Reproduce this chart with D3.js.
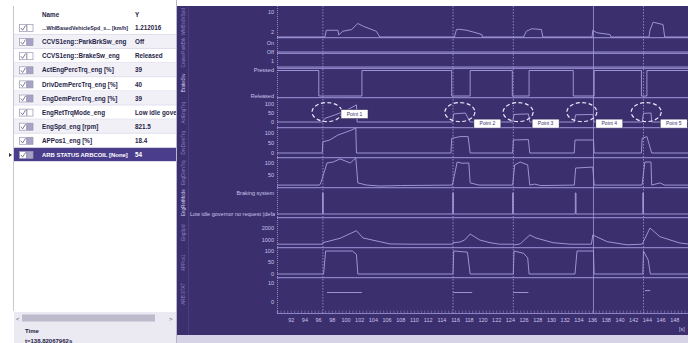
<!DOCTYPE html>
<html>
<head>
<meta charset="utf-8">
<script src="https://cdn.jsdelivr.net/npm/d3@7"></script>
<style>
html, body { margin: 0; padding: 0; background: #fff; overflow: hidden; }
svg { display: block; font-family: "Liberation Sans", Arial, sans-serif; }
</style>
</head>
<body>
<div id="chart"></div>
<script>
// ---- data ----
const tableNames = [
  '...WhlBasedVehicleSpd_s... [km/h]', 'CCVS1eng::ParkBrkSw_eng', 'CCVS1eng::BrakeSw_eng',
  'ActEngPercTrq_eng [%]', 'DrivDemPercTrq_eng [%]', 'EngDemPercTrq_eng [%]',
  'EngRetTrqMode_eng', 'EngSpd_eng [rpm]', 'APPos1_eng [%]', 'ARB STATUS ARBCOIL [None]'
];
const tableValues = ['1.212016', 'Off', 'Released', '39', '40', '39',
  'Low idle governor no request (default mode)', '821.5', '18.4', '54'];
const swatchFilled = [false, true, false, true, true, true, false, true, true, true];
const laneNames = ['WhlBsdVSpd', 'ParkBrk', 'Cruise', 'BrakeSw', 'ActEngTrq', 'DrvDemTrq',
  'EngDemTrq', 'EngRetMode', 'EngSpd', 'APPos1', 'ARB STAT'];

const timeTicks = [92, 94, 96, 98, 100, 102, 104, 106, 108, 110, 112, 114, 116, 118, 120,
  122, 124, 126, 128, 130, 132, 134, 136, 138, 140, 142, 144, 146, 148];
const cursorT = [96.7, 115.7, 124.5, 136.2, 143.5];
const cursorSolid = [false, false, false, true, false];

const pointNames = ['Point 1', 'Point 2', 'Point 3', 'Point 4', 'Point 5'];
const pointT = [97.3, 116.7, 125.2, 134.5, 143.9];
const pointV = [55, 55, 55, 55, 55];

const vehSpd = [[90, 0], [97.0, 0], [97.2, 2.7], [98.9, 2.7], [99.0, 0.8], [99.6, 2.3], [100.9, 3.0],
  [101.8, 5.4], [102.6, 4.3], [104.5, 2.3], [105.0, 0],
  [115.9, 0], [116.2, 3.0], [116.6, 3.1], [117.7, 2.7], [118.9, 1.8], [119.9, 1.0], [120.0, 0],
  [126.0, 0], [126.4, 2.3], [127.2, 3.3], [128.6, 3.0], [128.8, 0],
  [136.0, 0], [136.1, 2.7], [136.7, 1.7], [138.6, 1.0], [138.8, 0],
  [144.3, 0], [144.45, 2.7], [144.9, 5.9], [146.35, 5.0], [146.6, 0], [150, 0]];
const parkBrk = [[90, 'Off'], [150, 'Off']];
const cruiseSw = [[90, 0], [150, 0]];
const brakeSw = [[90, 'Pressed'], [96.1, 'Released'], [102.4, 'Pressed'], [115.5, 'Released'],
  [118.2, 'Pressed'], [124.35, 'Released'], [126.8, 'Pressed'], [133.25, 'Released'],
  [136.3, 'Pressed'], [143.2, 'Released'], [144.0, 'Pressed'], [150, 'Pressed']];
const actTrq = [[90, 0], [96.6, 0], [97.0, 20], [98.5, 40], [100.0, 62], [101.6, 95], [101.7, 0],
  [115.6, 0], [115.8, 45], [117.5, 50], [118.2, 0], [124.4, 0], [124.6, 42], [126.7, 45], [126.9, 0],
  [133.4, 0], [133.6, 40], [136.1, 42], [136.3, 0], [143.3, 0], [143.5, 48], [144.6, 50], [144.7, 0], [150, 0]];
const drvDemTrq = [[90, 0], [96.6, 0], [96.7, 56], [97.7, 65], [98.9, 90], [100.2, 106], [100.9, 115],
  [101.5, 125], [101.6, 0], [115.4, 0], [115.5, 73], [116.7, 82], [117.9, 82], [118.2, 0],
  [124.4, 0], [124.5, 65], [126.7, 67], [126.9, 0], [133.4, 0], [133.5, 65], [136.2, 65], [136.3, 0],
  [143.2, 0], [143.3, 73], [144.0, 82], [144.7, 0], [150, 0]];
const engDemTrq = [[90, 8], [96.2, 8], [96.4, 17], [97.3, 100], [98.2, 104], [99.2, 117], [100.0, 108],
  [100.7, 100], [101.5, 121], [101.8, 17], [103.1, 8], [105, 4], [108, 6], [115.6, 8], [116.3, 104],
  [117.0, 99], [118.0, 100], [118.2, 17], [119.5, 8], [124.4, 8], [124.7, 92], [125.5, 104],
  [126.6, 92], [126.9, 8], [127.6, 12], [128.5, 6], [133.4, 8], [133.6, 79], [136.1, 83], [136.3, 8],
  [143.3, 8], [143.7, 104], [144.6, 104], [144.7, 8], [145.9, 17], [146.6, 8], [150, 8]];
const retModeStates = ['Braking system', 'Low idle governor no request (default mode)'];
const retMode = [[90, 1], [96.65, 0], [96.75, 1], [115.65, 0], [115.75, 1], [124.4, 0], [124.5, 1],
  [133.55, 0], [133.65, 1], [143.4, 0], [143.5, 1], [150, 1]];
const engSpd = [[90, 650], [96.6, 650], [96.7, 775], [99.2, 1140], [101.6, 1775], [102.55, 1170],
  [105.0, 860], [106.5, 670], [110, 650], [115.6, 650], [115.7, 775], [116.7, 830], [117.4, 1000],
  [118.2, 1500], [119.6, 1000], [121.1, 775], [122.5, 650], [124.4, 650], [124.5, 580], [125.5, 670],
  [126.9, 1417], [127.8, 1170], [130.3, 775], [132.8, 650], [135.9, 650], [136.1, 1417], [138.2, 860],
  [141.1, 600], [143.3, 650], [143.4, 750], [144.45, 2000], [145.9, 1275], [148.8, 750], [150, 670]];
const apPos = [[90, 0], [96.8, 0], [97.1, 100], [101.0, 100], [101.6, 85], [101.8, 0], [115.7, 0],
  [115.8, 100], [117.8, 95], [118.2, 0], [124.5, 0], [124.6, 100], [126.0, 90], [126.6, 70], [126.8, 0],
  [133.5, 0], [133.8, 100], [136.2, 100], [136.3, 0], [143.4, 0], [143.5, 100], [144.2, 60], [144.5, 0], [150, 0]];
const arbStatus = [[97.3, 5], [102.4, 5], [102.4, null], [115.7, 5], [118.5, 5], [118.5, null],
  [124.5, 5], [126.7, 5], [126.7, null], [143.7, 6], [144.5, 6]];

// ---- layout ----
const W = 688, H = 343;
const plotTop = 6, plotBottom = 335, axisY = 313;
const BG = '#3b2f6d', TRACE = '#a89fe0', SEP = '#8c83c6', LBL = '#cac3ec';

const x = d3.scaleLinear().domain([90, 150]).range([277, 688]);

const lanes = [
  { data: vehSpd, bottom: 37.7, y: d3.scaleLinear().domain([0, 10]).range([37, 12]), ticks: [10, 2] },
  { data: parkBrk, bottom: 53.3, y: d3.scalePoint().domain(['On', 'Off']).range([43, 52]) },
  { data: cruiseSw, bottom: 68.3, y: d3.scaleLinear().domain([0, 1]).range([67, 61]), ticks: [1] },
  { data: brakeSw, bottom: 97.7, y: d3.scalePoint().domain(['Pressed', 'Released']).range([70.5, 96]), step: true },
  { data: actTrq, bottom: 127.7, y: d3.scaleLinear().domain([0, 100]).range([122, 104]), ticks: [100, 50, 0] },
  { data: drvDemTrq, bottom: 157.7, y: d3.scaleLinear().domain([0, 125]).range([153, 128]), ticks: [100, 50, 0] },
  { data: engDemTrq, bottom: 187.7, y: d3.scaleLinear().domain([0, 100]).range([187, 163]), ticks: [100, 50] },
  { data: retMode, bottom: 217.7, y: d3.scalePoint().domain(retModeStates).range([193, 214]), step: true, states: retModeStates },
  { data: engSpd, bottom: 247.7, y: d3.scaleLinear().domain([0, 2500]).range([252, 222]), ticks: [2000, 1000] },
  { data: apPos, bottom: 277.7, y: d3.scaleLinear().domain([0, 100]).range([274, 251]), ticks: [100, 50, 0] },
  { data: arbStatus, bottom: 310, y: d3.scaleLinear().domain([0, 10]).range([302, 283]), ticks: [10, 0] }
];
lanes.forEach((l, i) => { l.top = i === 0 ? plotTop : lanes[i - 1].bottom; });

const svg = d3.select('#chart').append('svg').attr('width', W).attr('height', H);
const defs = svg.append('defs');
defs.append('clipPath').attr('id', 'plotClip').append('rect')
  .attr('x', 277).attr('y', plotTop).attr('width', 411).attr('height', axisY - plotTop);
defs.append('clipPath').attr('id', 'lblClip').append('rect')
  .attr('x', 189).attr('y', plotTop).attr('width', 86).attr('height', axisY - plotTop);
defs.append('clipPath').attr('id', 'tblClip').append('rect')
  .attr('x', 14).attr('y', 0).attr('width', 162).attr('height', H);

svg.append('rect').attr('width', W).attr('height', H).attr('fill', '#fff');

// ---- left table panel ----
const panel = svg.append('g');
const INK = '#262448';
const rowY = d3.scaleBand().domain(tableNames).range([21, 162]);
panel.append('line').attr('x1', 13.5).attr('x2', 13.5).attr('y1', 6).attr('y2', 311)
  .attr('stroke', '#c9c7d6');
panel.append('line').attr('x1', 176.5).attr('x2', 176.5).attr('y1', 0).attr('y2', H)
  .attr('stroke', '#b9b6cc');
panel.append('text').attr('x', 42).attr('y', 16.5).text('Name')
  .attr('font-size', 6.3).attr('font-weight', 'bold').attr('fill', INK);
panel.append('text').attr('x', 135).attr('y', 16.5).text('Y')
  .attr('font-size', 6.3).attr('font-weight', 'bold').attr('fill', INK);

const rows = panel.selectAll('g.row').data(tableNames).join('g').attr('class', 'row')
  .attr('transform', d => `translate(0,${rowY(d)})`);
const last = tableNames.length - 1;
rows.append('rect').attr('x', 14).attr('width', 162).attr('height', rowY.bandwidth())
  .attr('fill', (d, i) => i === last ? '#4a3e8c' : (i % 2 ? '#f1f0f7' : '#fff'));
rows.append('line').attr('x1', 14).attr('x2', 176).attr('y1', rowY.bandwidth() - 0.5)
  .attr('y2', rowY.bandwidth() - 0.5).attr('stroke', '#dedcea');
rows.append('rect').attr('x', 19.5).attr('y', 3.5).attr('width', 7).attr('height', 7)
  .attr('fill', '#fff').attr('stroke', '#9896b0').attr('stroke-width', 0.7);
rows.append('path').attr('d', 'M20.8,7 L22.6,9.2 L25.6,4.4').attr('fill', 'none')
  .attr('stroke', '#6f6d8e').attr('stroke-width', 0.9);
rows.append('rect').attr('x', 27).attr('y', 3.5).attr('width', 6).attr('height', 7)
  .attr('fill', (d, i) => swatchFilled[i] ? '#a7a3c6' : '#fff')
  .attr('stroke', '#9896b0').attr('stroke-width', 0.7);
rows.append('text').attr('x', 42).attr('y', 9.2).text(d => d)
  .attr('font-size', 6.3).attr('font-weight', 'bold')
  .attr('fill', (d, i) => i === last ? '#fff' : INK)
  .each(function () {
    // shrink long names so they stay left of the value column
    const w = this.getComputedTextLength(), maxW = 86;
    if (w > maxW) d3.select(this).attr('font-size', 6.3 * maxW / w);
  });
rows.append('text').attr('x', 135).attr('y', 9.2).text((d, i) => tableValues[i])
  .attr('clip-path', 'url(#tblClip)')
  .attr('font-size', 6.3).attr('font-weight', 'bold')
  .attr('fill', (d, i) => i === last ? '#fff' : INK);
panel.append('path').attr('d', `M9,${rowY(tableNames[last]) + 5} l3,2 l-3,2 z`).attr('fill', '#333');

// scrollbar + time readout
panel.append('rect').attr('x', 14).attr('y', 312).attr('width', 162).attr('height', 31).attr('fill', '#ebe9f1');
panel.append('rect').attr('x', 22).attr('y', 314.5).attr('width', 133).attr('height', 7).attr('fill', '#bcbacb');
panel.append('text').attr('x', 16).attr('y', 320.5).text('<').attr('font-size', 6).attr('fill', '#555');
panel.append('text').attr('x', 169).attr('y', 320.5).text('>').attr('font-size', 6).attr('fill', '#555');
panel.append('text').attr('x', 25).attr('y', 333).text('Time')
  .attr('font-size', 6).attr('font-weight', 'bold').attr('fill', INK);
panel.append('text').attr('x', 25).attr('y', 343).text('t=138.82067962s')
  .attr('font-size', 6).attr('font-weight', 'bold').attr('fill', INK);

// ---- plot background ----
svg.append('rect').attr('x', 177).attr('y', plotTop).attr('width', W - 177).attr('height', plotBottom - plotTop)
  .attr('fill', BG);
svg.append('rect').attr('x', 177).attr('y', plotBottom).attr('width', W - 177).attr('height', H - plotBottom)
  .attr('fill', '#d7d3e6');
svg.append('line').attr('x1', 188.5).attr('x2', 188.5).attr('y1', plotTop).attr('y2', plotBottom)
  .attr('stroke', '#4a3e80');

// lane names in the narrow strip
svg.append('g').selectAll('text').data(lanes).join('text')
  .attr('transform', l => `translate(184.5,${(l.top + l.bottom) / 2}) rotate(-90)`)
  .attr('text-anchor', 'middle').attr('font-size', 4.6)
  .attr('fill', (l, i) => (i === 3 || i === 7) ? '#d6d0f5' : '#8a82c0')
  .text((l, i) => laneNames[i]);

// lane separators
svg.append('g').selectAll('line').data(lanes.slice(0, -1)).join('line')
  .attr('x1', 277).attr('x2', W).attr('y1', l => l.bottom).attr('y2', l => l.bottom)
  .attr('stroke', SEP).attr('stroke-width', 1.3);

// y axis dotted line
svg.append('line').attr('x1', 277.5).attr('x2', 277.5).attr('y1', plotTop).attr('y2', axisY)
  .attr('stroke', '#8f87c9').attr('stroke-dasharray', '1,1');

// lane tick labels
const lblG = svg.append('g').attr('clip-path', 'url(#lblClip)');
lanes.forEach(l => {
  const vals = l.ticks || l.y.domain();
  vals.forEach(v => {
    const yy = l.y(v);
    lblG.append('line').attr('x1', 275).attr('x2', 277.5).attr('y1', yy).attr('y2', yy)
      .attr('stroke', LBL).attr('stroke-width', 0.6);
    const t = lblG.append('text').attr('y', yy).attr('dy', '0.35em')
      .attr('font-size', 5.5).attr('fill', LBL)
      .text(typeof v === 'number' ? d3.format('d')(v) : v);
    if (t.node().getComputedTextLength() > 84) t.attr('x', 190);
    else t.attr('x', 274).attr('text-anchor', 'end');
  });
});

// traces
const traceG = svg.append('g').attr('clip-path', 'url(#plotClip)');
lanes.forEach(l => {
  const line = d3.line()
    .defined(d => d[1] !== null)
    .x(d => x(d[0]))
    .y(d => l.y(l.states ? l.states[d[1]] : d[1]))
    .curve(l.step ? d3.curveStepAfter : d3.curveLinear);
  traceG.append('path').datum(l.data).attr('d', line)
    .attr('fill', 'none').attr('stroke', TRACE).attr('stroke-width', 0.9);
});

// cursors
svg.append('g').selectAll('line').data(cursorT).join('line')
  .attr('x1', d => x(d)).attr('x2', d => x(d)).attr('y1', plotTop).attr('y2', axisY)
  .attr('stroke', '#a39bd8').attr('stroke-width', 0.8)
  .attr('stroke-dasharray', (d, i) => cursorSolid[i] ? null : '1.5,1.5');

// annotations
const ann = svg.append('g');
const laneE = lanes[4];
pointNames.forEach((name, i) => {
  const cx = x(pointT[i]), cy = laneE.y(pointV[i]);
  ann.append('ellipse').attr('cx', cx).attr('cy', cy).attr('rx', 15).attr('ry', 9.5)
    .attr('fill', 'none').attr('stroke', '#eeeaff').attr('stroke-width', 1.2)
    .attr('stroke-dasharray', '4,2.5');
  const ly = cy + (i === 0 ? 2 : 11.5);
  ann.append('rect').attr('x', cx + 14).attr('y', ly - 4.5).attr('width', 27).attr('height', 9)
    .attr('fill', '#fff').attr('stroke', '#2c2450').attr('stroke-width', 0.5);
  ann.append('text').attr('x', cx + 27.5).attr('y', ly).attr('dy', '0.35em')
    .attr('text-anchor', 'middle').attr('font-size', 5).attr('fill', '#3b2f6d').text(name);
});

// time axis
const minor = svg.append('g').attr('transform', `translate(0,${axisY})`)
  .call(d3.axisTop(x).tickValues(d3.range(90, 150.01, 0.5)).tickSize(2.5).tickFormat(''));
minor.select('.domain').attr('stroke', SEP).attr('stroke-width', 1.2);
minor.selectAll('.tick line').attr('stroke', '#8c84c4').attr('stroke-width', 0.6);
const major = svg.append('g').attr('transform', `translate(0,${axisY})`)
  .call(d3.axisBottom(x).tickValues(timeTicks).tickSize(0).tickPadding(5.5));
major.select('.domain').remove();
major.selectAll('text').attr('font-size', 5.5).attr('fill', LBL).attr('font-family', 'Liberation Sans, Arial, sans-serif');
svg.append('text').attr('x', 679).attr('y', 331).text('[s]').attr('font-size', 5.5).attr('fill', LBL);
</script>
</body>
</html>
